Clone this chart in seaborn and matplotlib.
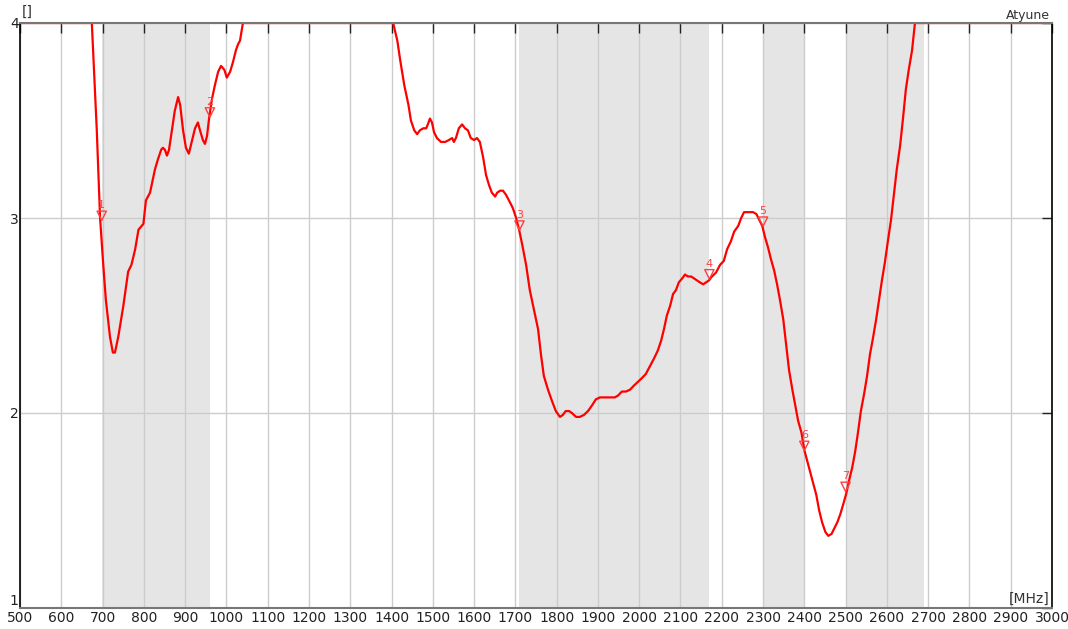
import numpy as np
import pandas as pd
import matplotlib
matplotlib.use("Agg")
import matplotlib.pyplot as plt
import matplotlib.transforms as mtransforms
import seaborn as sns

# VSWR trace (values above 4 are shown clipped at 4)
freq = [500, 600, 674, 686, 694, 701, 708, 718, 725, 730, 738, 750, 762, 770, 779,
        787, 799, 805, 815, 820, 827, 834, 842, 846, 851, 856, 861, 868, 875, 883,
        888, 895, 902, 909, 917, 924, 931, 936, 943, 948, 953, 958, 965, 972, 980, 987,
        995, 1001, 1009, 1016, 1023, 1028, 1033, 1040, 1200, 1404, 1414, 1421, 1431, 1441,
        1447, 1455, 1462, 1469, 1477, 1484, 1488, 1493, 1498, 1503, 1510, 1520, 1530, 1539,
        1547, 1551, 1556, 1563, 1571, 1578, 1585, 1592, 1600, 1607, 1614, 1622, 1629, 1636,
        1643, 1651, 1656, 1663, 1670, 1677, 1687, 1694, 1702, 1709, 1716, 1726, 1735, 1745,
        1755, 1762, 1769, 1779, 1789, 1798, 1808, 1815, 1822, 1830, 1837, 1847, 1856, 1866,
        1876, 1886, 1895, 1905, 1917, 1929, 1941, 1949, 1958, 1968, 1978, 1987, 1997, 2007,
        2016, 2026, 2036, 2045, 2053, 2060, 2067, 2075, 2082, 2089, 2096, 2104, 2111, 2118,
        2126, 2133, 2140, 2147, 2155, 2162, 2169, 2176, 2186, 2196, 2205, 2213, 2222, 2230,
        2240, 2247, 2254, 2262, 2269, 2276, 2284, 2291, 2298, 2305, 2312, 2319, 2327, 2334,
        2341, 2349, 2356, 2363, 2371, 2378, 2385, 2393, 2400, 2410, 2419, 2429, 2436, 2443,
        2451, 2458, 2466, 2473, 2480, 2487, 2494, 2502, 2508, 2516, 2523, 2530, 2537, 2545,
        2552, 2559, 2566, 2574, 2581, 2588, 2595, 2603, 2610, 2617, 2624, 2632, 2639, 2646,
        2653, 2661, 2668, 2800, 3000]
vswr = [4.0, 4.0, 4.0, 3.45, 3.0, 2.78, 2.58, 2.39, 2.31, 2.31, 2.39, 2.545, 2.725, 2.76, 2.84,
        2.94, 2.97, 3.09, 3.13, 3.18, 3.25, 3.30, 3.35, 3.36, 3.35, 3.32, 3.35, 3.45, 3.55, 3.62,
        3.58, 3.45, 3.36, 3.33, 3.40, 3.46, 3.49, 3.45, 3.40, 3.38, 3.42, 3.51, 3.61, 3.68, 3.75, 3.78,
        3.76, 3.72, 3.75, 3.80, 3.86, 3.89, 3.91, 4.0, 4.0, 4.0, 3.91, 3.81, 3.68, 3.58,
        3.50, 3.45, 3.43, 3.45, 3.46, 3.46, 3.48, 3.51, 3.49, 3.44, 3.41, 3.39, 3.39, 3.40,
        3.41, 3.39, 3.41, 3.46, 3.48, 3.46, 3.45, 3.41, 3.40, 3.41, 3.39, 3.31, 3.22, 3.17,
        3.13, 3.11, 3.13, 3.14, 3.14, 3.12, 3.08, 3.05, 3.00, 2.94, 2.87, 2.76, 2.63, 2.53,
        2.43, 2.30, 2.19, 2.12, 2.06, 2.01, 1.98, 1.99, 2.01, 2.01, 2.00, 1.98, 1.98, 1.99,
        2.01, 2.04, 2.07, 2.08, 2.08, 2.08, 2.08, 2.09, 2.11, 2.11, 2.12, 2.14, 2.16, 2.18,
        2.20, 2.24, 2.28, 2.32, 2.37, 2.43, 2.50, 2.55, 2.61, 2.63, 2.67, 2.69, 2.71, 2.70,
        2.70, 2.69, 2.68, 2.67, 2.66, 2.67, 2.68, 2.70, 2.72, 2.76, 2.78, 2.84, 2.88, 2.93,
        2.96, 3.00, 3.03, 3.03, 3.03, 3.03, 3.02, 2.99, 2.96, 2.90, 2.85, 2.79, 2.73, 2.66,
        2.58, 2.48, 2.35, 2.22, 2.12, 2.04, 1.96, 1.90, 1.81, 1.73, 1.66, 1.58, 1.50, 1.44,
        1.39, 1.37, 1.38, 1.41, 1.44, 1.48, 1.53, 1.59, 1.65, 1.72, 1.80, 1.90, 2.01, 2.10,
        2.19, 2.30, 2.38, 2.48, 2.58, 2.68, 2.77, 2.89, 2.99, 3.12, 3.25, 3.37, 3.51, 3.66,
        3.76, 3.86, 4.0, 4.0, 4.0]

# shaded bands (MHz)
band_start = [698, 1710, 2300, 2500]
band_end = [960, 2170, 2400, 2690]

# markers
mark_freq = [698, 960, 1710, 2170, 2300, 2400, 2500]
mark_vswr = [2.99, 3.52, 2.94, 2.69, 2.96, 1.81, 1.60]
mark_label = ["1", "2", "3", "4", "5", "6", "7"]

xticks = list(range(500, 3001, 100))
yticks = [1, 2, 3, 4]

df = pd.DataFrame({"freq": freq, "vswr": vswr})

sns.set_style("white")
plt.rcParams["font.family"] = ["DejaVu Sans"]

fig = plt.figure(figsize=(10.68, 6.29), dpi=100)
ax = fig.add_axes([20 / 1068, 21 / 629, 1032 / 1068, 585 / 629])

for s, e in zip(band_start, band_end):
    ax.axvspan(s, e, color="#e5e5e5", lw=0, zorder=0)

ax.set_xlim(500, 3000)
ax.set_ylim(1, 4)
ax.set_xticks(xticks)
ax.set_yticks(yticks)
ax.grid(True, color="#cccccc", lw=1, zorder=1)
ax.set_axisbelow(True)

sns.lineplot(data=df, x="freq", y="vswr", ax=ax, color="#ff0000", lw=1.6, zorder=2)

# markers: hollow down triangles sitting on the trace
off = mtransforms.offset_copy(ax.transData, fig=fig, x=0, y=3, units="points")
ax.scatter(mark_freq, mark_vswr, marker="v", s=45, facecolors="none",
           edgecolors="#ff4040", linewidths=1, transform=off, zorder=4)
for f, v, t in zip(mark_freq, mark_vswr, mark_label):
    ax.annotate(t, (f, v), xytext=(0, 7), textcoords="offset points",
                ha="center", va="bottom", fontsize=8, color="#ff4040", zorder=4)

ax.set_xlabel("")
ax.set_ylabel("")
ax.tick_params(direction="in", length=7, width=1, colors="#222222",
               top=True, right=True, labelsize=10, pad=2)
ax.tick_params(axis="y", pad=1)
for lbl in ax.get_yticklabels():
    if lbl.get_text() == "1":
        lbl.set_va("bottom")
for side in ["left", "right"]:
    ax.spines[side].set_color("black")
    ax.spines[side].set_linewidth(1.2)
for side in ["top", "bottom"]:
    ax.spines[side].set_color("#777777")
    ax.spines[side].set_linewidth(1.5)

fig.text(22 / 1068, 1 - 12 / 629, "[]", fontsize=10, color="#333333", va="center")
fig.text(1050 / 1068, 1 - 15 / 629, "Atyune", fontsize=9, color="#333333",
         ha="right", va="center")
ax.text(0.998, 0.003, "[MHz]", transform=ax.transAxes, ha="right", va="bottom",
        fontsize=10, color="#333333")

fig.savefig("out.png", dpi=100)
